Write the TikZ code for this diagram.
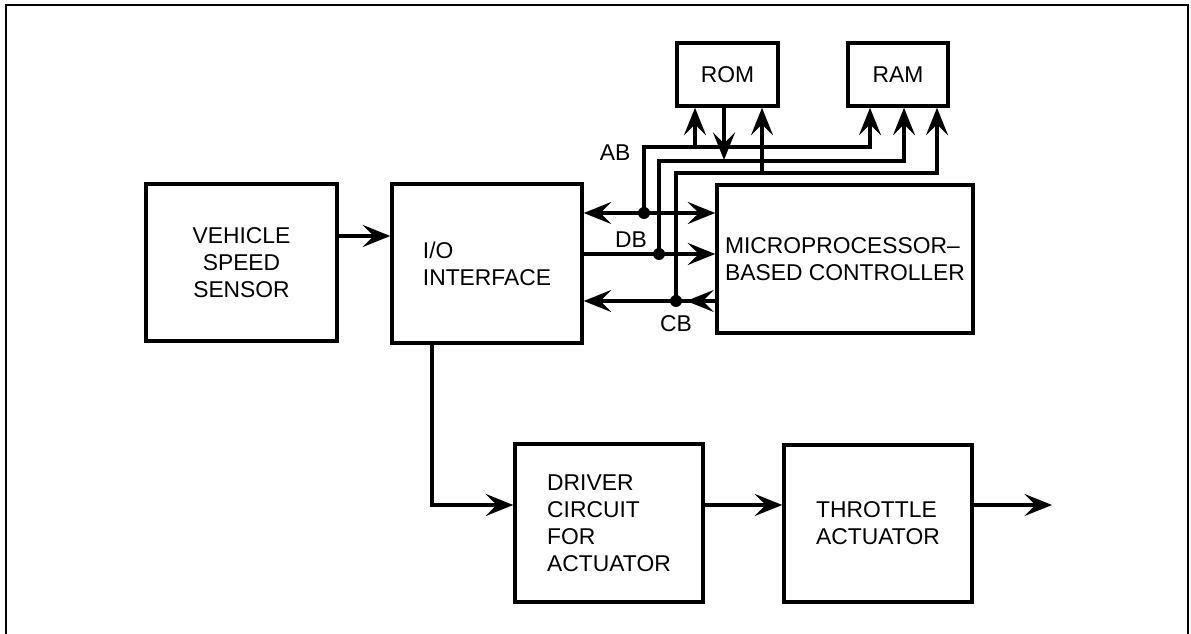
\documentclass[tikz,border=0pt]{standalone}
\usepackage{fontspec}
\setmainfont{Liberation Sans}
\usepackage{tikz}
\usetikzlibrary{arrows.meta}

\tikzset{
  blk/.style={draw, line width=0.07cm, inner sep=2pt, font=\fontsize{13}{15.3}\selectfont},
  bus/.style={line width=0.065cm},
  lbl/.style={font=\fontsize{13}{15.3}\selectfont, inner sep=0pt}
}

\begin{document}
\begin{tikzpicture}[x=0.02cm, y=-0.02cm, >={Stealth[length=0.55cm, width=0.44cm, inset=0.22cm]}]
\useasboundingbox (0,0) rectangle (1191,634);
\draw[line width=0.04cm] (6,634) -- (6,5) -- (1188,5) -- (1188,634);

% blocks
\node[blk, minimum width=3.82cm, minimum height=3.14cm, align=center](vss) at (241.5,262.5) {VEHICLE\\SPEED\\SENSOR};
\node[blk, minimum width=3.8cm, minimum height=3.18cm, align=left](io) at (487,263.5) {I/O\\INTERFACE};
\node[blk, minimum width=5.12cm, minimum height=2.96cm, align=left](mpc) at (845,259) {MICROPROCESSOR--\\BASED CONTROLLER};
\node[blk, minimum width=2.02cm, minimum height=1.26cm](rom) at (727.5,74.5) {ROM};
\node[blk, minimum width=2.0cm, minimum height=1.26cm](ram) at (898,74.5) {RAM};
\node[blk, minimum width=3.76cm, minimum height=3.16cm, align=left](drv) at (609,523) {DRIVER\\CIRCUIT\\FOR\\ACTUATOR};
\node[blk, minimum width=3.76cm, minimum height=3.14cm, align=left](thr) at (878,523.5) {THROTTLE\\ACTUATOR};

% junctions on the buses
\coordinate (abdot) at (644,213);
\coordinate (dbdot) at (659,254);
\coordinate (cbdot) at (676,301);
\coordinate (out) at (1052,505);

% signal path
\draw[bus, ->] (vss.east |- 0,236) -- (io.west |- 0,236);
\draw[bus, ->] (io.south -| 432,0) |- (drv.west |- 0,505);
\draw[bus, ->] (drv.east |- 0,505) -- (thr.west |- 0,505);
\draw[bus, ->] (thr.east |- out) -- (out);

% buses between I/O and controller
\draw[bus, <->] (io.east |- abdot) -- (mpc.west |- abdot);
\draw[bus, ->] (io.east |- dbdot) -- (mpc.west |- dbdot);
\draw[bus, ->] (mpc.west |- cbdot) -- (io.east |- cbdot);
\draw[bus, ->] (mpc.west |- cbdot) -- ++(-29,0);

% address, data and control lines to memory
\draw[bus, ->] (abdot) |- (870,147) -- (870,0 |- ram.south);
\draw[bus, ->] (dbdot) |- (904,161) -- (904,0 |- ram.south);
\draw[bus, ->] (cbdot) |- (937,173) -- (937,0 |- ram.south);
\draw[bus, ->] (695,147) -- (695,0 |- rom.south);
\draw[bus, ->] (724,0 |- rom.south) -- (724,160);
\draw[bus, ->] (762,173) -- (762,0 |- rom.south);

\foreach \d in {abdot,dbdot,cbdot}
	\fill (\d) circle (0.12cm);

\node[lbl](ab) at (615,153) {AB};
\node[lbl](db) at (631,240) {DB};
\node[lbl](cb) at (676,324) {CB};
\end{tikzpicture}
\end{document}
